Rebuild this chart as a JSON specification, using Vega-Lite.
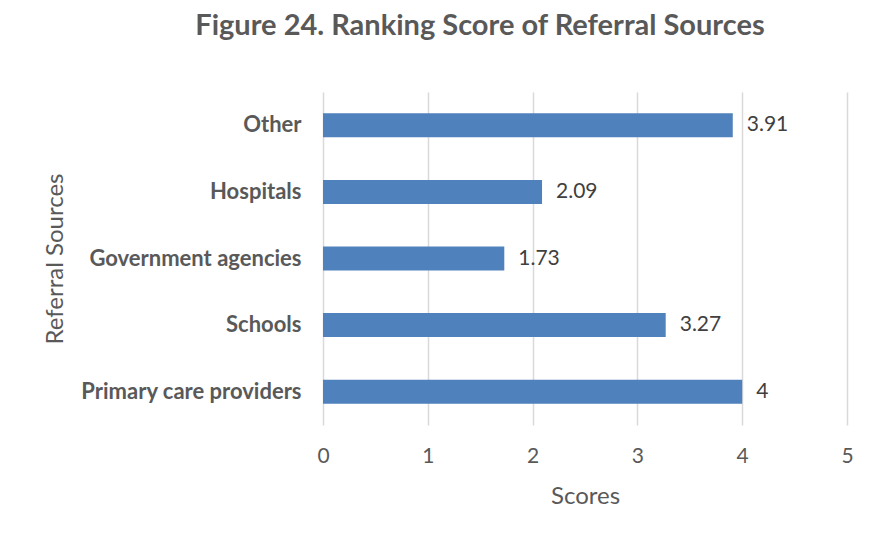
{
  "$schema": "https://vega.github.io/schema/vega-lite/v6.json",
  "width": 524,
  "height": 333,
  "autosize": {"type": "none"},
  "padding": {"left": 323, "top": 92, "right": 34, "bottom": 118},
  "background": "white",
  "title": {
    "text": "Figure 24. Ranking Score of Referral Sources",
    "font": "Lato",
    "fontSize": 29,
    "fontWeight": "bold",
    "color": "#595959",
    "anchor": "middle",
    "dx": -105,
    "offset": 51
  },
  "config": {"view": {"stroke": null}},
  "data": {
    "values": [
      {"source": "Other", "score": 3.91},
      {"source": "Hospitals", "score": 2.09},
      {"source": "Government agencies", "score": 1.73},
      {"source": "Schools", "score": 3.27},
      {"source": "Primary care providers", "score": 4}
    ]
  },
  "encoding": {
    "y": {
      "field": "source",
      "type": "nominal",
      "sort": null,
      "scale": {"paddingInner": 0.64, "paddingOuter": 0.32},
      "axis": {
        "title": "Referral Sources",
        "titleFont": "Lato",
        "titleFontSize": 24,
        "titleFontWeight": "normal",
        "titleColor": "#595959",
        "titleX": -268,
        "titleBaseline": "middle",
        "labelFont": "Lato",
        "labelFontSize": 22,
        "labelFontWeight": "bold",
        "labelColor": "#595959",
        "labelPadding": 22,
        "labelLimit": 400,
        "ticks": false,
        "domain": false,
        "grid": false
      }
    },
    "x": {
      "field": "score",
      "type": "quantitative",
      "scale": {"domain": [0, 5]},
      "axis": {
        "title": "Scores",
        "titleFont": "Lato",
        "titleFontSize": 24,
        "titleFontWeight": "normal",
        "titleColor": "#595959",
        "titlePadding": 18,
        "values": [0, 1, 2, 3, 4, 5],
        "labelFont": "Lato",
        "labelFontSize": 21,
        "labelColor": "#595959",
        "labelPadding": 20,
        "labelFlush": false,
        "ticks": false,
        "domain": false,
        "grid": true,
        "gridColor": "#d9d9d9",
        "gridWidth": 1.5
      }
    }
  },
  "layer": [
    {"mark": {"type": "bar", "color": "#4f81bd"}},
    {
      "mark": {"type": "text", "align": "left", "dx": 14, "font": "Lato", "fontSize": 21, "color": "#404040"},
      "encoding": {"text": {"field": "score", "type": "quantitative"}}
    }
  ]
}
